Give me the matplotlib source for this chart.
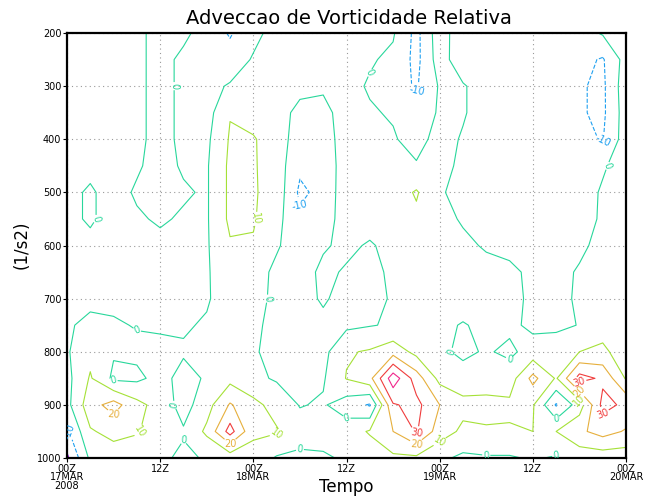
import numpy as np
import matplotlib.pyplot as plt

# time axis (hours from 17MAR2008 00Z) and pressure levels
hours = [0, 3, 6, 9, 12, 15, 18, 21, 24, 27, 30, 33, 36,
         39, 42, 45, 48, 51, 54, 57, 60, 63, 66, 69, 72]
levs = [200, 250, 300, 350, 400, 450, 500, 550, 600,
        650, 700, 750, 800, 850, 900, 950, 1000]

# relative vorticity advection, one list per level
p200 = [-3, -3, -2, -2, 3, 2, -4, -11, -3, 4, 4, 4, 4, 3, 1, -13, 6, -8, -5, -5, -5, -4, -4, 1, 5]
p250 = [-3, -3, -3, -2, 3, -2, -4, -6, 1, 4, 4, 4, 3, 1, -2, -13, 5, -7, -6, -6, -6, -5, -7, -11, 4]
p300 = [-3, -3, -3, -2, 3, -2, -3, 1, 4, 4, 2, 1, 3, -1, -6, -11, 1, 1, -5, -6, -6, -6, -9, -12, 6]
p350 = [-3, -3, -2, -2, 3, -2, -4, 9.5, 5, 3, -2, -2, 3, 1, -1, -5, 1, 1, -5, -6, -6, -6, -9, -12, 5]
p400 = [-3, -3, -2, -2, 3, -2, -2, 11, 11, 4, -4, -3, 3, 3, 1, -4, 4, -1, -5, -6, -6, -6, -8, -10.5, 5]
p450 = [-3, -2, -3, -1, 3, -1, -1, 12, 11, 5, -8, -5, 4, 4, 3, 1, 3, -2, -5, -5, -5, -5, -6, -1, 4]
p500 = [-2, 1, -3, 1, 3, 1, -1, 12, 11, 6, -12, -7, 6, 5, 5, 11, 1, -3, -5, -6, -5, -5, -4, 1, 4]
p550 = [-2, 1, -3, -1, 1, -1, -1, 12, 11, 3, -8, -6, 6, 4, 4, 8, 3, -1, -5, -5, -5, -5, -3, 1, 4]
p600 = [-2, -2, -3, -2, -2, -2, -1, 9, 9, 1, -5, -1, 2, -1, 3, 5, 4, 2, -1, -4, -5, -5, -2, 3, 5]
p650 = [-2, -2, -2, -2, -2, -2, -1, 6, 4, -2, -4, 2, -1, -3, 2, 4, 4, 4, 3, 3, -3, -3, 1, 5, 6]
p700 = [-2, -2, -2, -2, -2, -2, -1, 5, 3, -2, -3, 1, -3, -3, 1, 4, 3, 2, 2, 3, -2, -2, 1, 5, 6]
p750 = [-1, 2, 1, -0.5, -1, -1, 1, 4, 2, -3, -3, -2, -2, -0.5, 1, 3, 1, -0.3, 1, 2, -2, -3, 0.5, 6, 7]
p800 = [-1, 7, 1, 2, 2, 1, 3, 4, 1, -3, -3, -3, 9, 11, 16, 7, 2, -2, 1, -2, 4, 8, 10, 12, 5]
p850 = [-3, 11, -2, -2, 3, -3, 1, 7, 2, -1, -3, -1, 10.5, 17, 46, 25, 7, 4, 5, 5, 23, 9, 34, 28, 9]
p900 = [-3, 16, 24, 13, 6, -4, 6, 21, 13, 6, -0.5, 1, -5, -11, 29, 33, 20, 13, 13, 12, 11, -11, 5, 33, 28]
p950 = [-12, 9, 13, 11, 4, 1, 12, 34, 12, 11, 4, 3, 5, 11, 20, 31, 15, 8, 9, 9, 10, 10, 18, 24, 19]
p1000 = [-22, 2, 5, 3, 2, -2, 1, 4, 6, -1, -2, -1, 1, 4, 8, 8, 2, -2, -1, -1, 1, -1, 4, 4, 4]

clevs = [-20, -10, 0, 10, 20, 30, 40]
ccolors = ['#8c00dc', '#1ea0f0', '#28d79b', '#a5e137', '#e6af3c', '#f03c3c', '#f0288c']

xtick_pos = [0, 12, 24, 36, 48, 60, 72]
xtick_lab = ['00Z\n17MAR\n2008', '12Z', '00Z\n18MAR', '12Z', '00Z\n19MAR', '12Z', '00Z\n20MAR']

field = np.array([p200, p250, p300, p350, p400, p450, p500, p550, p600,
                  p650, p700, p750, p800, p850, p900, p950, p1000])

fig = plt.figure(figsize=(6.49, 4.98), dpi=100)
ax = fig.add_axes([0.1032, 0.0803, 0.8614, 0.8534])

styles = ['dashed' if c < 0 else 'solid' for c in clevs]
cs = ax.contour(hours, levs, field, levels=clevs, colors=ccolors,
                linewidths=0.8, linestyles=styles)
ax.clabel(cs, fmt='%d', fontsize=7, inline=True, inline_spacing=1)

ax.set_xlim(0, 72)
ax.set_ylim(1000, 200)
ax.set_xticks(xtick_pos)
ax.set_xticklabels(xtick_lab, linespacing=0.85)
ax.set_yticks([200, 300, 400, 500, 600, 700, 800, 900, 1000])
ax.tick_params(direction='out', length=3, width=0.8, labelsize=7, pad=1)
ax.grid(True, linestyle=(0, (1, 3)), color='#999999', linewidth=0.8)
for s in ax.spines.values():
    s.set_linewidth(1.6)

fig.text(0.538, 0.963, 'Adveccao de Vorticidade Relativa', ha='center', va='center', fontsize=14)
fig.text(0.034, 0.508, '(1/s2)', rotation=90, ha='center', va='center', fontsize=12)
fig.text(0.534, 0.022, 'Tempo', ha='center', va='center', fontsize=12)

plt.savefig('out.png', dpi=100)
